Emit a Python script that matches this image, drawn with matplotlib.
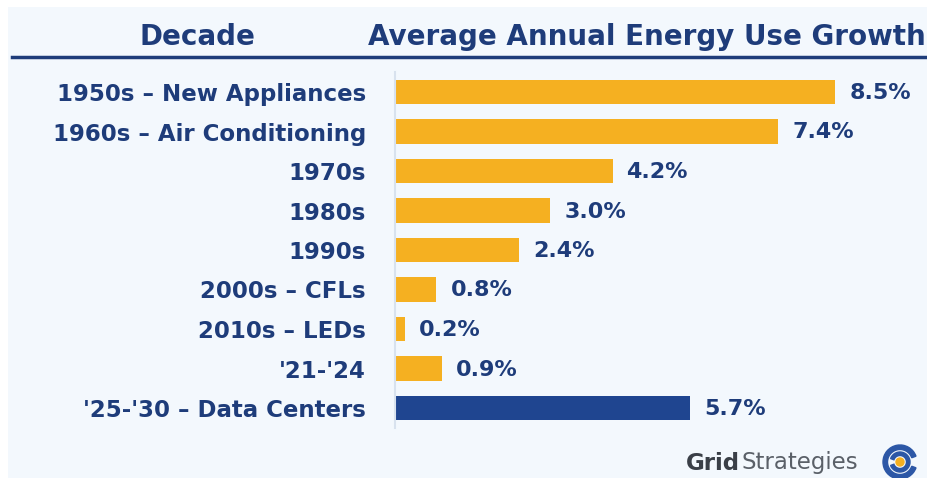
import matplotlib.pyplot as plt
from matplotlib.patches import Rectangle, Circle, Wedge

labels = ['1950s – New Appliances', '1960s – Air Conditioning', '1970s', '1980s', '1990s',
          '2000s – CFLs', '2010s – LEDs', "'21-'24", "'25-'30 – Data Centers"]
growth = [8.5, 7.4, 4.2, 3.0, 2.4, 0.8, 0.2, 0.9, 5.7]
highlight = [False] * 8 + [True]

navy = '#1e3c7a'
yellow = '#f5b021'
blue = '#1f4590'
panel = '#f3f8fd'

W, H = 928, 478
fig = plt.figure(figsize=(W / 100, H / 100), dpi=100)
fig.patch.set_facecolor('white')

# light panel behind everything
fig.patches.append(Rectangle((8 / W, 0), 1, 1 - 7 / H, transform=fig.transFigure,
                             facecolor=panel, edgecolor='none', zorder=-5))

# axes placed in pixel terms: x from 395px, 51.8 px per percent; rows 39.5 px apart
ax = fig.add_axes([395 / W, 1 - 427.75 / H, 518 / W, 355.5 / H])
ax.set_zorder(2)
ax.set_facecolor('none')
ax.set_xlim(0, 10)
ax.set_ylim(8.5, -0.5)

colors = [blue if h else yellow for h in highlight]
ax.barh(range(len(labels)), growth, height=0.63, color=colors)
for i, v in enumerate(growth):
    ax.annotate(f'{v:.1f}%', (v, i), xytext=(14, -1), textcoords='offset pixels',
                ha='left', va='center', fontsize=16, fontweight='bold',
                color=navy, family='DejaVu Sans')

ax.set_yticks(range(len(labels)))
ax.set_yticklabels(labels, fontsize=16.5, fontweight='bold', color=navy, family='DejaVu Sans')
ax.tick_params(axis='y', length=0, pad=21)
ax.set_xticks([])
for s in ['top', 'right', 'bottom']:
    ax.spines[s].set_visible(False)
ax.spines['left'].set_color('#d8e2ee')
ax.spines['left'].set_linewidth(1.5)

# header
fig.text(197 / W, 1 - 37 / H, 'Decade', ha='center', va='center', fontsize=20,
         fontweight='bold', color=navy, family='DejaVu Sans')
fig.text(368 / W, 1 - 37 / H, 'Average Annual Energy Use Growth', ha='left', va='center',
         fontsize=20, fontweight='bold', color=navy, family='DejaVu Sans')
fig.add_artist(plt.Line2D([12 / W, 1], [1 - 57 / H] * 2, transform=fig.transFigure,
                          color=navy, linewidth=2.5))

# logo
grid = fig.text(686 / W, 1 - 463 / H, 'Grid', ha='left', va='center', fontsize=16.5,
                fontweight='bold', color='#3a3f47', family='DejaVu Sans')
fig.canvas.draw()
gx1 = grid.get_window_extent().x1
fig.text(gx1 / W + 2 / W, 1 - 463 / H, 'Strategies', ha='left', va='center', fontsize=16.5,
         color='#5a6068', family='DejaVu Sans')
cx, cy = 900, H - 462
fig.add_artist(Wedge((cx, cy), 17, 20, 340, width=4.5, transform=None, color='#2c57a6'))
fig.add_artist(Wedge((cx, cy), 10, 200, 520, width=3.5, transform=None, color='#2c57a6'))
fig.add_artist(Circle((cx, cy), 4, transform=None, color=yellow))

fig.savefig('out.png', dpi=100, facecolor=fig.get_facecolor())
